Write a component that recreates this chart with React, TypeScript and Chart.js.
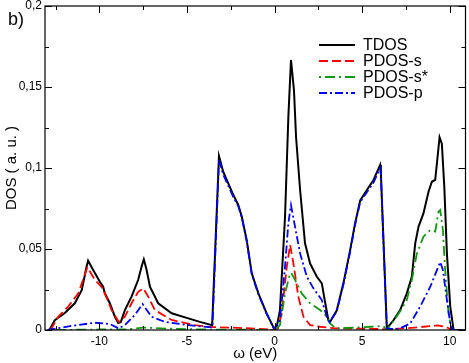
import React, { useEffect, useRef } from 'react';
import { Chart, registerables } from 'chart.js';
Chart.register(...registerables);

const FONT = '"Liberation Sans", Arial, sans-serif';

const xTicks = [-10, -5, 0, 5, 10];
const yTicks = [0, 0.05, 0.1, 0.15, 0.2];
const xMinor = [-12.5, -7.5, -2.5, 2.5, 7.5];
const yMinor = [0.025, 0.075, 0.125, 0.175];

const seriesLabels = ['TDOS', 'PDOS-s', 'PDOS-s*', 'PDOS-p'];

const tdosX = [-12.85, -12.54, -11.97, -11.4, -11.0, -10.73, -10.64, -10.35, -9.97, -9.78, -9.69, -9.4, -9.11, -8.92, -8.77, -8.54, -8.16, -7.78, -7.59, -7.46, -7.3, -7.11, -6.64, -5.87, -4.92, -4.26, -3.56, -3.17, -2.93, -2.64, -2.35, -2.07, -1.87, -1.59, -1.3, -0.92, -0.45, -0.03, 0.1, 0.31, 0.6, 0.79, 0.94, 1.11, 1.23, 1.46, 1.74, 2.03, 2.41, 2.7, 2.83, 3.07, 3.17, 3.55, 3.93, 4.31, 4.6, 4.89, 5.27, 5.65, 6.03, 6.07, 6.41, 6.79, 7.17, 7.55, 7.84, 8.03, 8.22, 8.5, 8.79, 8.98, 9.17, 9.27, 9.42, 9.55, 9.69, 9.84, 10.03, 10.22, 10.9];
const tdosY = [0, 0.006, 0.0105, 0.0165, 0.0247, 0.039, 0.0428, 0.037, 0.0298, 0.0267, 0.0228, 0.0165, 0.0082, 0.0043, 0.005, 0.0123, 0.0206, 0.031, 0.039, 0.0436, 0.037, 0.0267, 0.0165, 0.0103, 0.0072, 0.005, 0.003, 0.1074, 0.0977, 0.0905, 0.0833, 0.0772, 0.07, 0.0556, 0.035, 0.0226, 0.0103, 0.001, 0.0005, 0.0123, 0.07, 0.1317, 0.1667, 0.148, 0.119, 0.0864, 0.0535, 0.041, 0.033, 0.0288, 0.0206, 0.0062, 0.005, 0.012, 0.0288, 0.049, 0.066, 0.08, 0.0864, 0.0926, 0.1019, 0.097, 0.001, 0.006, 0.0123, 0.0226, 0.033, 0.0535, 0.0638, 0.072, 0.0854, 0.0915, 0.0926, 0.103, 0.119, 0.115, 0.0885, 0.047, 0.0144, 0, 0];

const pdosSX = [-12.8, -12.73, -12.35, -11.78, -11.2, -10.68, -10.26, -9.88, -9.69, -9.3, -8.89, -8.54, -8.16, -7.78, -7.49, -7.21, -6.83, -5.87, -4.54, -3.6, -2.5, -1.0, 0, 0.2, 0.41, 0.7, 0.89, 1.08, 1.36, 1.65, 2.03, 2.6, 3.5, 5.0, 6.4, 7.5, 8.5, 9.3, 9.8, 10.1, 10.9];
const pdosSY = [0, 0.001, 0.0082, 0.0144, 0.0226, 0.0387, 0.031, 0.0267, 0.0228, 0.0123, 0.005, 0.0082, 0.0165, 0.0236, 0.0257, 0.0206, 0.0123, 0.0062, 0.003, 0.0018, 0.0015, 0.0008, 0, 0.001, 0.0103, 0.039, 0.0525, 0.041, 0.0206, 0.0082, 0.003, 0.002, 0.001, 0.0008, 0.0005, 0.001, 0.002, 0.0028, 0.002, 0, 0];

const pdosSsX = [-12.8, -10, -8.5, -7.5, -6, -4, -2, 0, 0.31, 0.6, 0.89, 0.95, 1.17, 1.55, 2.03, 2.6, 2.89, 3.17, 3.5, 4.5, 5.5, 6.2, 6.41, 6.79, 7.17, 7.55, 7.84, 8.12, 8.5, 8.89, 9.17, 9.36, 9.46, 9.61, 9.74, 9.93, 10.12, 10.9];
const pdosSsY = [0, 0.0003, 0.0003, 0.0015, 0.0008, 0.0003, 0.0002, 0, 0.003, 0.0226, 0.035, 0.0352, 0.031, 0.0226, 0.0165, 0.0123, 0.0093, 0.004, 0.001, 0.0015, 0.002, 0.0025, 0, 0.0055, 0.0115, 0.0185, 0.031, 0.047, 0.0576, 0.0617, 0.0607, 0.073, 0.074, 0.0617, 0.037, 0.0103, 0, 0];

const pdosPX = [-12.95, -11.6, -10.26, -9.4, -8.9, -8.54, -7.97, -7.53, -7.02, -6.26, -4.92, -3.6, -3.54, -3.17, -2.93, -2.64, -2.35, -2.07, -1.87, -1.59, -1.3, -0.92, -0.45, -0.03, 0.31, 0.6, 0.79, 0.94, 1.17, 1.46, 1.84, 2.22, 2.7, 2.98, 3.13, 3.55, 3.93, 4.31, 4.6, 4.89, 5.27, 5.65, 6.03, 6.07, 6.41, 6.79, 7.17, 7.74, 8.31, 8.89, 9.27, 9.46, 9.61, 9.84, 10.03, 10.15, 10.9];
const pdosPY = [0, 0.0025, 0.0045, 0.0037, 0.001, 0.003, 0.0093, 0.016, 0.0082, 0.005, 0.003, 0.0016, 0.003, 0.105, 0.096, 0.089, 0.082, 0.0765, 0.0695, 0.055, 0.0345, 0.022, 0.01, 0.0008, 0.006, 0.039, 0.066, 0.077, 0.0638, 0.0473, 0.033, 0.0257, 0.0185, 0.0082, 0.005, 0.0115, 0.028, 0.048, 0.065, 0.079, 0.085, 0.091, 0.1, 0.096, 0.001, 0.0005, 0.001, 0.004, 0.0144, 0.0267, 0.037, 0.042, 0.037, 0.0185, 0.004, 0, 0];

const toPts = (xs: number[], ys: number[]) => xs.map((x, i) => ({ x, y: ys[i] }));

const styles = [
  { color: '#000000', dash: [] as number[], width: 2 },
  { color: '#ff0000', dash: [9, 4], width: 1.8 },
  { color: '#109a10', dash: [2, 4, 10, 4], width: 1.8 },
  { color: '#0000ff', dash: [8, 3, 2, 3], width: 1.8 },
];

const decor = {
  id: 'decor',
  afterDatasetsDraw(chart: any) {
    const { ctx, chartArea: a, scales } = chart;
    const xs = scales.x;
    const ys = scales.y;
    ctx.save();
    ctx.strokeStyle = '#000';
    ctx.lineWidth = 1.2;
    ctx.setLineDash([]);
    ctx.strokeRect(a.left, a.top, a.right - a.left, a.bottom - a.top);
    const line = (x1: number, y1: number, x2: number, y2: number) => {
      ctx.beginPath();
      ctx.moveTo(x1, y1);
      ctx.lineTo(x2, y2);
      ctx.stroke();
    };
    ctx.lineWidth = 1;
    const xt = (vals: number[], len: number) => vals.forEach((v) => {
      const p = Math.round(xs.getPixelForValue(v)) + 0.5;
      line(p, a.bottom, p, a.bottom - len);
      line(p, a.top, p, a.top + len);
    });
    const yt = (vals: number[], len: number) => vals.forEach((v) => {
      const p = Math.round(ys.getPixelForValue(v)) + 0.5;
      line(a.left, p, a.left + len, p);
      line(a.right, p, a.right - len, p);
    });
    xt(xTicks, 7); xt(xMinor, 4);
    yt(yTicks, 7); yt(yMinor, 4);

    // legend
    const lx0 = 319, lx1 = 355, tx = 363;
    const rows = [45, 61, 77, 93];
    ctx.font = `16px ${FONT}`;
    ctx.textBaseline = 'middle';
    ctx.textAlign = 'left';
    seriesLabels.forEach((lab, i) => {
      const st = styles[i];
      ctx.strokeStyle = st.color;
      ctx.lineWidth = st.width;
      ctx.setLineDash(st.dash);
      line(lx0, rows[i], lx1, rows[i]);
      ctx.setLineDash([]);
      ctx.fillStyle = '#000';
      ctx.fillText(lab, tx, rows[i] + 1);
    });

    ctx.font = `18px ${FONT}`;
    ctx.textBaseline = 'alphabetic';
    ctx.fillStyle = '#000';
    ctx.fillText('b)', 8, 25);
    ctx.restore();
  },
};

export default function App() {
  const ref = useRef<HTMLCanvasElement | null>(null);
  useEffect(() => {
    if (!ref.current) return;
    const series = [toPts(tdosX, tdosY), toPts(pdosSX, pdosSY), toPts(pdosSsX, pdosSsY), toPts(pdosPX, pdosPY)];
    const orders = [4, 3, 2, 1];
    const chart = new Chart(ref.current, {
      type: 'line',
      data: {
        datasets: series.map((d, i) => ({
          label: seriesLabels[i],
          data: d,
          borderColor: styles[i].color,
          borderDash: styles[i].dash,
          borderWidth: styles[i].width,
          pointRadius: 0,
          tension: 0,
          fill: false,
          order: orders[i],
        })),
      },
      options: {
        responsive: false,
        animation: false,
        parsing: false as any,
        layout: { padding: { left: 0, right: 3.5, top: 6, bottom: 0 } },
        plugins: { legend: { display: false }, tooltip: { enabled: false } },
        scales: {
          x: {
            type: 'linear',
            min: -13.1,
            max: 10.9,
            afterBuildTicks: (s: any) => { s.ticks = xTicks.map((value) => ({ value })); },
            afterFit: (s: any) => { s.height = 33; s.paddingLeft = 0; s.paddingRight = 0; },
            grid: { display: false, drawTicks: false },
            border: { display: false },
            ticks: {
              color: '#000',
              font: { family: FONT, size: 12 },
              padding: 4,
              maxRotation: 0,
              autoSkip: false,
              callback: (v: any) => String(v),
            },
            title: {
              display: true,
              text: 'ω (eV)',
              color: '#000',
              font: { family: FONT, size: 15 },
              padding: { top: 1, bottom: 0 },
            },
          },
          y: {
            type: 'linear',
            min: 0,
            max: 0.2,
            afterBuildTicks: (s: any) => { s.ticks = yTicks.map((value) => ({ value })); },
            afterFit: (s: any) => { s.width = 45; s.paddingTop = 0; s.paddingBottom = 0; },
            grid: { display: false, drawTicks: false },
            border: { display: false },
            ticks: {
              color: '#000',
              font: { family: FONT, size: 12 },
              padding: 3,
              autoSkip: false,
              callback: (v: any) => (v === 0 ? '0' : String(+Number(v).toFixed(3)).replace('.', ',')),
            },
            title: {
              display: true,
              text: 'DOS ( a. u. )',
              color: '#000',
              font: { family: FONT, size: 15 },
              padding: { top: 3, bottom: 0 },
            },
          },
        },
      },
      plugins: [decor],
    } as any);
    return () => chart.destroy();
  }, []);
  return (
    <div style={{ position: 'absolute', left: 0, top: 0, width: 469, height: 363, background: '#fff' }}>
      <canvas ref={ref} width={469} height={363} />
    </div>
  );
}
